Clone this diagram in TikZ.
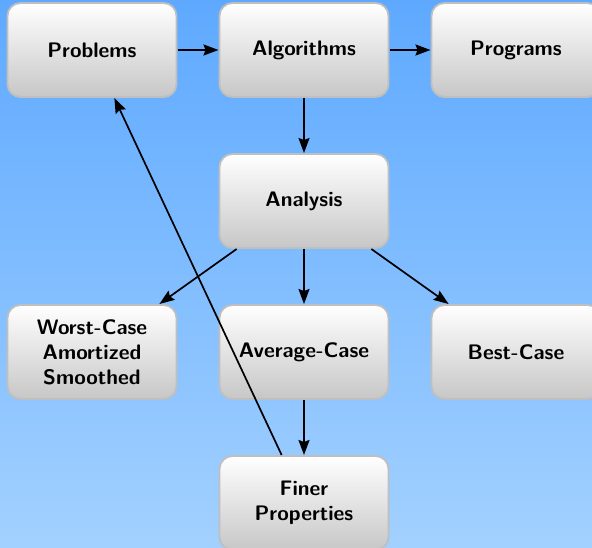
\documentclass[tikz,border=0pt]{standalone}
\usepackage{fontspec}
\usetikzlibrary{arrows.meta,shadings}
\tikzset{
  box/.style={draw=black!25, line width=1.8pt, rounded corners=13pt,
    top color=white, bottom color=black!22, minimum width=169pt, minimum height=94pt,
    align=center, font=\sffamily\bfseries\fontsize{21}{25}\selectfont, inner sep=2pt, outer sep=1pt},
  link/.style={line width=1.7pt, -{Stealth[length=15pt,width=11pt,inset=2pt]}}
}
\definecolor{bgtop}{HTML}{5EA9FF}
\definecolor{bgbot}{HTML}{A3D1FF}
\begin{document}
\begin{tikzpicture}[x=1pt,y=-1pt]
  % backdrop
  \shade[top color=bgtop, bottom color=bgbot] (0,0) rectangle (592,548);
  \useasboundingbox (0,0) rectangle (592,548);
  % boxes
  \node[box] (prob) at (92,50) {Problems};
  \node[box] (alg) at (304,50) {Algorithms};
  \node[box] (prog) at (516,50) {Programs};
  \node[box] (ana) at (304,201) {Analysis};
  \node[box] (worst) at (92,352) {Worst-Case\\Amortized\\Smoothed};
  \node[box] (avg) at (304,352) {Average-Case};
  \node[box] (best) at (516,352) {Best-Case};
  \node[box] (finer) at (304,503) {Finer\\Properties};
  % links
  \draw[link] (prob) -- (alg);
  \draw[link] (alg) -- (prog);
  \draw[link] (alg) -- (ana);
  \draw[link] (ana) -- (worst);
  \draw[link] (ana) -- (avg);
  \draw[link] (ana) -- (best);
  \draw[link] (avg) -- (finer);
  \draw[link] (finer) -- (prob);
\end{tikzpicture}
\end{document}
